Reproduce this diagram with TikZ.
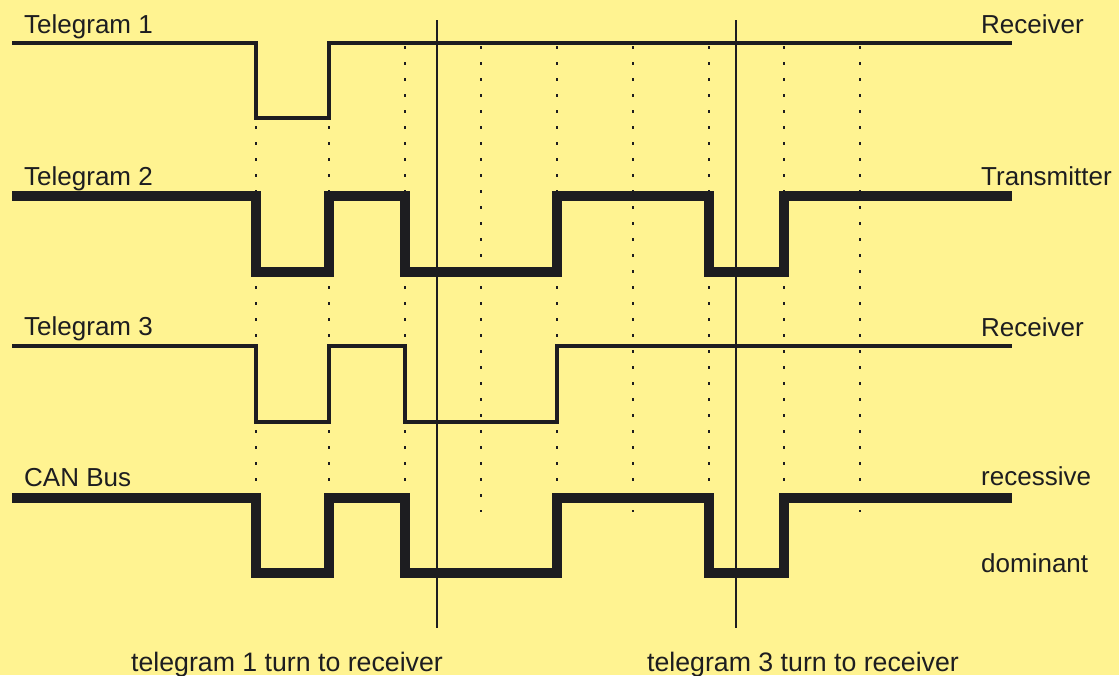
\documentclass[tikz,border=0pt]{standalone}
\usepackage{fontspec}
\setmainfont{Liberation Sans}
\usepackage{xcolor}
\usepackage{tikz}
\definecolor{cbg}{HTML}{FFF391}
\definecolor{cline}{HTML}{1D1D20}
\tikzset{
  thin sig/.style={cline,line width=4.5pt},
  thick sig/.style={cline,line width=10pt},
  grid dots/.style={cline,line width=2.5pt,dash pattern=on 2.5pt off 13.5pt},
  turn/.style={cline,line width=2.5pt},
  lbl/.style={anchor=base west,inner sep=0pt,text=cline,font=\fontsize{26}{30}\selectfont},
  note/.style={lbl,font=\fontsize{26.7}{30}\selectfont}
}

\begin{document}
\begin{tikzpicture}[x=1pt,y=-1pt]
  \fill[cbg] (0,0) rectangle (1119,675);
  \useasboundingbox (0,0) rectangle (1119,675);
  \foreach \x in {256,329,405,481,557,633,709,784,860} {
    \draw[grid dots] (\x,46) -- (\x,512);
  }
  \coordinate (turnA top) at (437,20);
  \coordinate (turnA bot) at (437,628);
  \coordinate (turnB top) at (736,20);
  \coordinate (turnB bot) at (736,628);
  \draw[turn] (turnA top) -- (turnA bot);
  \draw[turn] (turnB top) -- (turnB bot);
  \draw[thin sig] (12,43) -- (256,43) -- (256,118) -- (329,118) -- (329,43) -- (1012,43);
  \draw[thick sig] (12,196) -- (256,196) -- (256,272) -- (329,272) -- (329,196)
    -- (405,196) -- (405,272) -- (557,272) -- (557,196) -- (709,196) -- (709,272)
    -- (784,272) -- (784,196) -- (1012,196);
  \draw[thin sig] (12,346) -- (256,346) -- (256,422) -- (329,422) -- (329,346)
    -- (405,346) -- (405,422) -- (557,422) -- (557,346) -- (1012,346);
  \draw[thick sig] (12,498) -- (256,498) -- (256,573) -- (329,573) -- (329,498)
    -- (405,498) -- (405,573) -- (557,573) -- (557,498) -- (709,498) -- (709,573)
    -- (784,573) -- (784,498) -- (1012,498);
  \node[lbl] (tel1) at (24,33) {Telegram 1};
  \node[lbl] (tel2) at (24,185) {Telegram 2};
  \node[lbl] (tel3) at (24,335) {Telegram 3};
  \node[lbl] (can) at (24,486) {CAN Bus};
  \node[lbl] (rx1) at (981,33) {Receiver};
  \node[lbl] (tx2) at (981,185) {Transmitter};
  \node[lbl] (rx3) at (981,336) {Receiver};
  \node[lbl] (rec) at (981,485) {recessive};
  \node[lbl] (dom) at (981,572) {dominant};
  \node[note] (turnA) at (131,671) {telegram 1 turn to receiver};
  \node[note] (turnB) at (647,671) {telegram 3 turn to receiver};
\end{tikzpicture}
\end{document}
